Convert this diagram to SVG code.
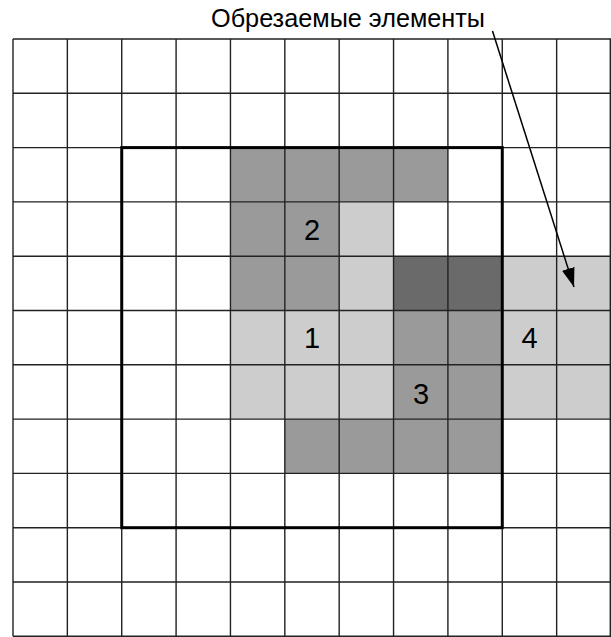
<svg xmlns="http://www.w3.org/2000/svg" width="611" height="637" viewBox="0 0 611 637">
<style>
.m{fill:#9a9a9a}
.l{fill:#cdcdcd}
.d{fill:#6a6a6a}
.g{stroke:#222;stroke-width:1.4;fill:none}
.t{font-family:"Liberation Sans",Arial,sans-serif;fill:#000}
.num{font-size:29px;text-anchor:middle}
</style>
<defs>
<marker id="ah" markerUnits="userSpaceOnUse" markerWidth="20" markerHeight="14" refX="19" refY="6.5" orient="auto">
<path d="M0,0 L19,6.5 L0,13 z" fill="#000"/>
</marker>
</defs>
<rect width="611" height="637" fill="#fff"/>
<g id="cells">
<rect class="m" x="230.45" y="147.6" width="54.37" height="54.3"/>
<rect class="m" x="284.82" y="147.6" width="54.36" height="54.3"/>
<rect class="m" x="339.18" y="147.6" width="54.37" height="54.3"/>
<rect class="m" x="393.55" y="147.6" width="54.36" height="54.3"/>
<rect class="m" x="230.45" y="201.9" width="54.37" height="54.3"/>
<rect class="m" x="284.82" y="201.9" width="54.36" height="54.3"/>
<rect class="l" x="339.18" y="201.9" width="54.37" height="54.3"/>
<rect class="m" x="230.45" y="256.2" width="54.37" height="54.3"/>
<rect class="m" x="284.82" y="256.2" width="54.36" height="54.3"/>
<rect class="l" x="339.18" y="256.2" width="54.37" height="54.3"/>
<rect class="d" x="393.55" y="256.2" width="108.72" height="54.3"/>
<rect class="l" x="502.27" y="256.2" width="108.73" height="54.3"/>
<rect class="l" x="230.45" y="310.5" width="163.1" height="54.3"/>
<rect class="m" x="393.55" y="310.5" width="108.72" height="54.3"/>
<rect class="l" x="502.27" y="310.5" width="108.73" height="54.3"/>
<rect class="l" x="230.45" y="364.8" width="163.1" height="54.3"/>
<rect class="m" x="393.55" y="364.8" width="108.72" height="54.3"/>
<rect class="l" x="502.27" y="364.8" width="108.73" height="54.3"/>
<rect class="m" x="284.82" y="419.1" width="217.45" height="54.3"/>
</g>
<g id="grid" class="g">
<path d="M13,39V636.3M67.36,39V636.3M121.73,39V636.3M176.09,39V636.3M230.45,39V636.3M284.82,39V636.3M339.18,39V636.3M393.55,39V636.3M447.91,39V636.3M502.27,39V636.3M556.64,39V636.3M610.3,39V636.3"/>
<path d="M13,39H611M13,93.3H611M13,147.6H611M13,201.9H611M13,256.2H611M13,310.5H611M13,364.8H611M13,419.1H611M13,473.4H611M13,527.7H611M13,582H611M13,636.3H611"/>
</g>
<g id="frame">
<rect x="121.73" y="147.6" width="380.54" height="380.1" fill="none" stroke="#000" stroke-width="3"/>
</g>
<g id="labels" class="t">
<text id="n1" class="t num" x="312" y="348">1</text>
<text id="n2" class="t num" x="312" y="239.5">2</text>
<text id="n3" class="t num" x="421" y="403.5">3</text>
<text id="n4" class="t num" x="529.5" y="348">4</text>
</g>
<g id="title">
<text class="t" x="348" y="26.5" font-size="25" text-anchor="middle" textLength="274" lengthAdjust="spacingAndGlyphs">Обрезаемые элементы</text>
</g>
<g id="connectors">
<line x1="492.5" y1="31" x2="574" y2="287" stroke="#000" stroke-width="1.5" marker-end="url(#ah)"/>
</g>
</svg>
